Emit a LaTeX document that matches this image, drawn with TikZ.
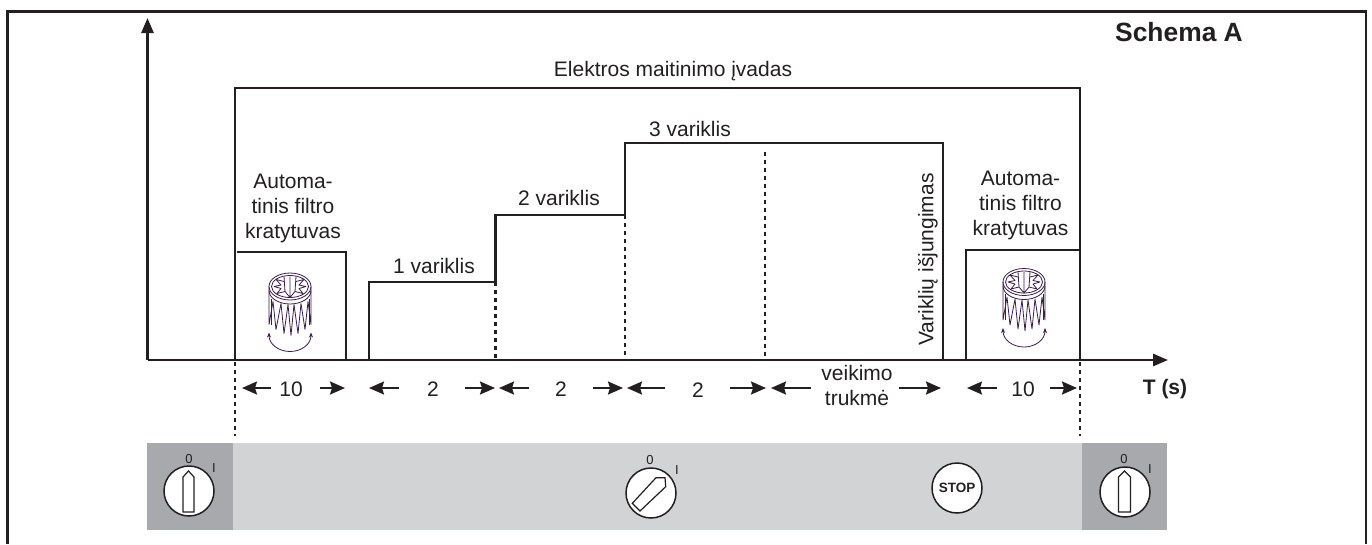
\documentclass[tikz,border=0pt]{standalone}
\usepackage{fontspec}
\setmainfont{Liberation Sans}
\usetikzlibrary{arrows.meta}
\definecolor{ink}{HTML}{231F20}
\definecolor{iconc}{HTML}{3B1D4A}
\definecolor{paneld}{HTML}{A7A9AC}
\definecolor{panell}{HTML}{D1D3D4}
\tikzset{
  line/.style={draw=ink,line width=2.7pt},
  axis/.style={line,-{Triangle[length=15pt,width=12pt]}},
  guide/.style={draw=ink,line width=2.2pt,dash pattern=on 4pt off 4pt},
  span/.style={draw=ink,line width=2pt,-{Stealth[length=15pt,width=13pt,inset=2pt]}},
  lbl/.style={text=ink,font=\fontsize{21}{25}\selectfont,inner sep=0pt,align=center},
  blbl/.style={lbl,font=\fontsize{26.4}{30}\selectfont\bfseries},
  knob/.style={circle,draw=ink,line width=1.5pt,fill=white,minimum size=50pt,inner sep=0pt},
  small/.style={text=ink,font=\fontsize{13}{14}\selectfont,inner sep=0pt},
  ico/.style={draw=iconc,line width=.8pt,line join=round}
}
\newcommand{\filtericon}[2]{%
  \begin{scope}[shift={(#1,#2)}]
    \draw[ico] (0,0) ellipse [x radius=21pt,y radius=13.5pt];
    \draw[ico] (0,0) ellipse [x radius=18.5pt,y radius=11pt];
    \draw[ico] (-21,0) -- (-21,4) arc[start angle=180,end angle=360,x radius=21pt,y radius=13.5pt] -- (21,0);
    \draw[ico] (5,5) -- (13,7) -- (9,2) -- (16,0) -- (9,-1.5) -- (14,-7) -- (6,-5);
    \draw[ico] (-5,5) -- (-13,7) -- (-9,2) -- (-16,0) -- (-9,-1.5) -- (-14,-7) -- (-6,-5);
    \draw[ico] (-6,-10) -- (-5,5) -- (0,11) -- (5,5) -- (6,-10) (0,-10) -- (0,11);
    \draw[ico] (-21,4) -- (-21,38) -- (-17,15) -- (-14,43) -- (-9,17) -- (-6,47) -- (-2,18) -- (1,49) -- (4,18) -- (8,47) -- (11,17) -- (15,43) -- (18,15) -- (21,38) -- (21,4);
    \draw[ico] (-19,38) -- (-19,12) (19,38) -- (19,12);
    \draw[ico,{Stealth[length=5pt,width=4pt]}-{Stealth[length=5pt,width=4pt]}] (-21,46) .. controls (-21,58) and (-11,65) .. (0,65) .. controls (11,65) and (21,58) .. (21,46);
  \end{scope}}
\begin{document}
\begin{tikzpicture}[x=1pt,y=-1pt]
\useasboundingbox (0,0) rectangle (1372,544);
% frame
\draw[line] (7.5,544) -- (7.5,11.5) -- (1366,11.5) -- (1366,544);
% switch panel
\fill[panell] (233,443) rectangle (1082,530);
\fill[paneld] (147,443) rectangle (233,530);
\fill[paneld] (1082,443) rectangle (1167,530);
% guides
\coordinate (gA0) at (235,362); \coordinate (gA1) at (235,436);
\coordinate (gB0) at (1080,362); \coordinate (gB1) at (1080,436);
\coordinate (g1a) at (495.5,282); \coordinate (g1b) at (495.5,360);
\coordinate (g2a) at (625,215); \coordinate (g2b) at (625,360);
\coordinate (g3a) at (765,152); \coordinate (g3b) at (765,360);
\draw[guide] (gA0) -- (gA1);
\draw[guide] (gB0) -- (gB1);
\draw[guide] (g1a) -- (g1b);
\draw[guide] (g2a) -- (g2b);
\draw[guide] (g3a) -- (g3b);
% power and stages
\draw[line] (235,360) -- (235,88) -- (1080,88) -- (1080,360);
\draw[line] (237,252) -- (346,252) -- (346,360) -- (369,360) -- (369,282) -- (495.5,282) -- (495.5,215) -- (625,215) -- (625,143) -- (943,143) -- (943,360) -- (966,360) -- (966,250) -- (1080,250);
% axes
\coordinate (org) at (147.5,360);
\coordinate (ytip) at (147.5,18);
\coordinate (xtip) at (1168,360);
\draw[axis] (org) -- (ytip);
\draw[axis] (org) -- (xtip);
% labels
\node[blbl,anchor=center] (title) at (1179,32) {Schema A};
\node[lbl] (power) at (673,71) {Elektros maitinimo įvadas};
\node[lbl] (shake1) at (293,208) {Automa-\\tinis filtro\\kratytuvas};
\node[lbl] (shake2) at (1020.5,205) {Automa-\\tinis filtro\\kratytuvas};
\node[lbl] (m1) at (434,266) {1 variklis};
\node[lbl] (m2) at (559,198) {2 variklis};
\node[lbl] (m3) at (690,129) {3 variklis};
\node[lbl,rotate=90] (off) at (928,259.5) {Variklių išjungimas};
\node[lbl,font=\fontsize{21}{25}\selectfont\bfseries] (ts) at (1165,389) {T (s)};
% icons
\filtericon{290}{286.5}
\filtericon{1024}{282}
% durations
\node[lbl] (d1) at (291,389) {10};
\node[lbl] (d2) at (433,389) {2};
\node[lbl] (d3) at (561,389) {2};
\node[lbl] (d4) at (698,390) {2};
\node[lbl] (d5) at (857,385.5) {veikimo\\trukmė};
\node[lbl] (d6) at (1023,389) {10};
\draw[span] (271,388) -- (242,388);
\draw[span] (320,388) -- (345,388);
\draw[span] (399,388) -- (369,388);
\draw[span] (465,388) -- (495,388);
\draw[span] (529,388) -- (499,388);
\draw[span] (593,388) -- (623,388);
\draw[span] (665,388) -- (627,388);
\draw[span] (730,388) -- (766,388);
\draw[span] (811,388) -- (771,388);
\draw[span] (899,388) -- (941,388);
\draw[span] (997,388) -- (967,388);
\draw[span] (1050,388) -- (1077,388);
% knobs
\node[knob] (k1) at (189,491) {};
\node[knob] (k2) at (651,493) {};
\node[knob,font=\fontsize{13.5}{14}\selectfont\bfseries,text=ink] (stop) at (957,488) {STOP};
\node[knob] (k3) at (1125,492) {};
\node[small] (k1o) at (189,459) {0};
\node[small] (k1i) at (214,468) {I};
\node[small] (k2o) at (650,460) {0};
\node[small] (k2i) at (677,470) {I};
\node[small] (k3o) at (1124,459) {0};
\node[small] (k3i) at (1150,469) {I};
\draw[draw=ink,line width=1.2pt] (183,512) -- (183,477) -- (188.5,471) -- (194,477) -- (194,512) -- cycle;
\draw[draw=ink,line width=1.2pt] (1118.5,512) -- (1118.5,477) -- (1124.5,471) -- (1130.5,477) -- (1130.5,512) -- cycle;
\draw[draw=ink,line width=1.2pt] (632.3,503.3) -- (640,511) -- (665.7,486.7) -- (665,477.7) -- (656,477.7) -- cycle;
\end{tikzpicture}
\end{document}
